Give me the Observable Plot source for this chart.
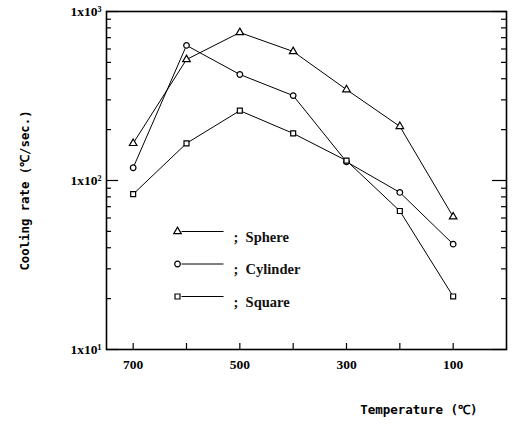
<!DOCTYPE html>
<html>
<head>
<meta charset="utf-8">
<script src="https://cdn.jsdelivr.net/npm/d3@7"></script>
<script src="https://cdn.jsdelivr.net/npm/@observablehq/plot@0.6"></script>
<style>
  html, body { margin: 0; padding: 0; background: #fff; }
</style>
</head>
<body>
<div id="chart"></div>
<script>
const temps = [700, 600, 500, 400, 300, 200, 100];
const sphere = [166, 520, 751, 580, 345, 209, 61];
const cylinder = [119, 630, 424, 318, 129, 85, 42];
const square = [83, 166, 259, 190, 131, 66, 20.6];
const seriesNames = ["Sphere", "Cylinder", "Square"];
const seriesSymbols = ["triangle", "circle", "square"];
const xTicks = [700, 600, 500, 400, 300, 200, 100];
const xTickLabels = [700, 500, 300, 100];
const yMajor = [10, 100, 1000];
const yMajorLabels = ["1x10\u00B9", "1x10\u00B2", "1x10\u00B3"];
const yMinor = [20, 30, 40, 50, 60, 70, 80, 90, 200, 300, 400, 500, 600, 700, 800, 900];
const xTitle = "Temperature (\u2103)";
const yTitle = "Cooling rate (\u2103/sec.)";

const allSeries = [sphere, cylinder, square];
const data = [];
allSeries.forEach((vals, si) => {
  vals.forEach((v, i) => data.push({series: seriesNames[si], symbol: seriesSymbols[si], t: temps[i], rate: v}));
});

const serif = "'Liberation Serif', 'DejaVu Serif', serif";
const mono = "'DejaVu Sans Mono', 'Liberation Mono', monospace";

const W = 512, H = 426, ML = 106, MR = 6, MT = 11, MB = 77;
const FW = W - ML - MR, FH = H - MT - MB;
const xDomain = [750, 0], yDomain = [10, 1000];

// scales used to convert tick lengths (pixels) into domain values
const xs = d3.scaleLinear(xDomain, [ML, W - MR]);
const ys = d3.scaleLog(yDomain, [H - MB, MT]);
const leftTick = len => ({x1: xDomain[0], x2: xs.invert(ML + len)});
const rightTick = len => ({x1: xDomain[1], x2: xs.invert(W - MR - len)});
const bottomTick = len => ({y1: yDomain[0], y2: ys.invert(H - MB - len)});

// a horizontal dash used as the legend line
const dashSymbol = {draw(ctx) { ctx.moveTo(0, 0); ctx.lineTo(42, 0); }};

const legendMarks = [];
seriesNames.forEach((name, i) => {
  const dy = 220 + 32.5 * i;
  legendMarks.push(
    Plot.dot([name], {frameAnchor: "top-left", dx: 75, dy: dy, symbol: () => dashSymbol, stroke: "black", fill: "none", strokeWidth: 1}),
    Plot.dot([name], {frameAnchor: "top-left", dx: 71, dy: dy, symbol: () => seriesSymbols[i], r: 2.8, stroke: "black", fill: "white", strokeWidth: 1.2}),
    Plot.text([";  " + name], {frameAnchor: "top-left", dx: 127, dy: dy, textAnchor: "start", fontSize: 14.5, fontFamily: serif, fontWeight: "bold", fill: "#111"})
  );
});

const chart = Plot.plot({
  width: W,
  height: H,
  marginLeft: ML,
  marginRight: MR,
  marginTop: MT,
  marginBottom: MB,
  style: {background: "white", color: "black"},
  x: {domain: xDomain, axis: null},
  y: {type: "log", domain: yDomain, axis: null},
  symbol: {domain: seriesSymbols, range: seriesSymbols},
  marks: [
    // inward ticks
    Plot.ruleX(xTicks, {...bottomTick(6), stroke: "black", strokeWidth: 1.2}),
    Plot.ruleY(yMajor, {...leftTick(12), stroke: "black", strokeWidth: 1.2}),
    Plot.ruleY(yMinor, {...leftTick(5), stroke: "black", strokeWidth: 1.2}),
    Plot.ruleY(yMajor, {...rightTick(14), stroke: "black", strokeWidth: 1.2}),
    Plot.ruleY(yMinor, {...rightTick(5), stroke: "black", strokeWidth: 1.2}),
    Plot.frame({stroke: "black", strokeWidth: 1.6}),
    // tick labels
    Plot.axisX(xTickLabels, {anchor: "bottom", tickSize: 0, tickPadding: 10, tickFormat: d => String(d), label: null, fontSize: 13.5, fontFamily: serif, fontWeight: "bold"}),
    Plot.axisY(yMajor, {anchor: "left", tickSize: 0, tickPadding: 5, tickFormat: d => yMajorLabels[yMajor.indexOf(d)], label: null, fontSize: 13.5, fontFamily: serif, fontWeight: "bold"}),
    // axis titles
    Plot.text([yTitle], {frameAnchor: "left", dx: -81, dy: 10, rotate: -90, textAnchor: "middle", fontSize: 12.3, fontFamily: mono, fontWeight: "bold", fill: "black"}),
    Plot.text([xTitle], {frameAnchor: "bottom-right", dx: -29, dy: 64, textAnchor: "end", fontSize: 12.5, fontFamily: mono, fontWeight: "bold", fill: "black"}),
    // data
    Plot.line(data, {x: "t", y: "rate", z: "series", stroke: "black", strokeWidth: 1}),
    Plot.dot(data, {x: "t", y: "rate", symbol: "symbol", r: 2.8, stroke: "black", fill: "white", strokeWidth: 1.2}),
    ...legendMarks
  ]
});
document.getElementById("chart").appendChild(chart);
</script>
</body>
</html>
